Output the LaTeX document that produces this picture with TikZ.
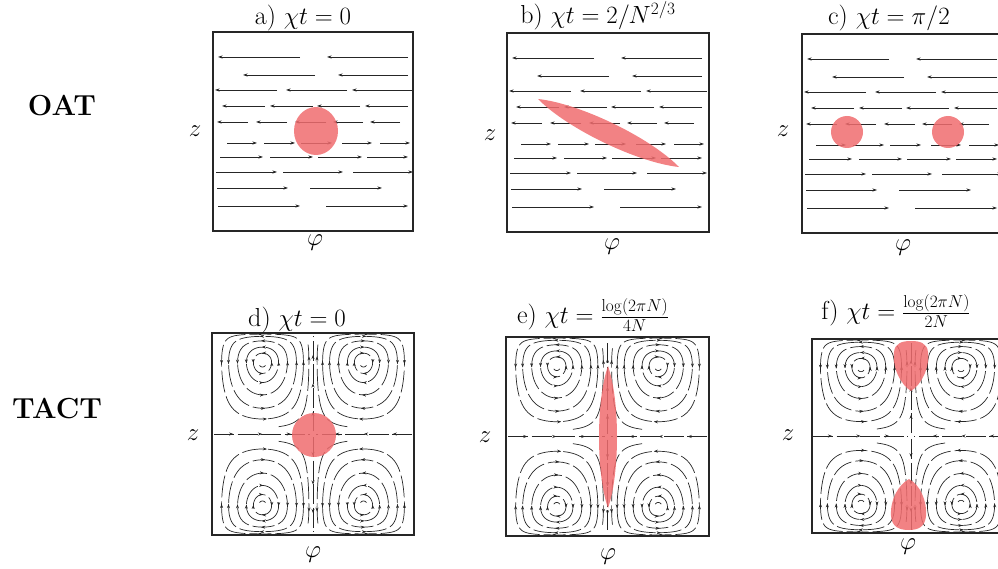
\documentclass[tikz,border=0pt]{standalone}
\usetikzlibrary{arrows.meta,decorations.markings}
\definecolor{blob}{RGB}{240,108,110}
\tikzset{
 panelbox/.style={line width=1.1pt, draw=black!85},
 flowarrow/.style={line width=0.65pt, draw=black!85, -{Stealth[length=4.5pt,width=3pt]}},
 stream/.style={line width=0.7pt, draw=black!85, dash pattern=on 22pt off 4pt},
 streamtip/.style={line width=0.7pt, draw=black!85, -{Stealth[length=4pt,width=3pt]}},
 midstream/.style={line width=0.7pt, draw=black!85, dash pattern=on 20pt off 3.5pt,
   postaction={decorate}, decoration={markings, mark=between positions 0.2 and 1 step 0.3 with {\arrow{Stealth[length=4pt,width=3pt]}}}},
 plainstream/.style={line width=0.7pt, draw=black!85},
 blobfill/.style={fill=blob, fill opacity=0.85, draw=none},
 ttl/.style={font=\fontsize{26}{30}\selectfont, anchor=base},
 axl/.style={font=\fontsize{27}{31}\selectfont},
 rowl/.style={font=\fontsize{29}{33}\selectfont\bfseries},
}
% OAT horizontal flow rows; #1 box left, #2 box top
\newcommand\oatrows[2]{%
 \begin{scope}[shift={(#1,#2)}]
  \foreach \yy/\aa/\bb in {25/5/87, 25/114/195, 43/30/102, 43/125/195, 58/2/64, 58/73/134, 58/139/200,
     74/9/52, 74/57/100, 74/104/147, 74/152/195, 90/4/35, 90/43/74, 90/82/113, 90/120/150, 90/157/187}
   {\draw[flowarrow] (\bb,\yy) -- (\aa,\yy);}
  \foreach \yy/\aa/\bb in {111/14/44, 111/51/82, 111/88/119, 111/129/159, 111/167/197,
     125/7/50, 125/57/100, 125/105/149, 125/154/195, 140/3/64, 140/70/130, 140/140/200,
     156/4/75, 156/97/169, 174/5/87, 174/113/195}
   {\draw[flowarrow] (\aa,\yy) -- (\bb,\yy);}
 \end{scope}}
% TACT stream lines; #1 X0, #2 Y0, #3 W, #4 H
\newcommand\tactflow[4]{%
 \pgfmathsetmacro\wsc{(#3)/180}%
 \foreach \sx in {1,-1}{\foreach \sz in {1,-1}{%
  \foreach \rr in {0.28,0.48,0.70,0.87,0.956}{%
   \draw[stream] plot[domain=0:360,samples=91,smooth,variable=\t]
    ({#1+(\sx)*\wsc*(-90+asin(\rr*cos(\t)/sqrt(1-\rr*\rr*sin(\t)*sin(\t))))},
     {#2-(\sz)*#4*sqrt((1+\rr*sin(\t))/2)});
   \foreach \aa in {2,92,182,272}{%
    \pgfmathsetmacro\bbb{\aa+0.4}%
    \draw[streamtip] plot[domain=\aa:\bbb,samples=2,variable=\t]
    ({#1+(\sx)*\wsc*(-90+asin(\rr*cos(\t)/sqrt(1-\rr*\rr*sin(\t)*sin(\t))))},
     {#2-(\sz)*#4*sqrt((1+\rr*sin(\t))/2)});
   }
  }
  % near-separatrix fan beside the central axis
  \draw[stream] plot[domain=-86:35,samples=61,smooth,variable=\t]
    ({#1+(\sx)*\wsc*(-90+asin(0.992*cos(\t)/sqrt(1-0.984*sin(\t)*sin(\t))))},
     {#2-(\sz)*#4*sqrt((1+0.992*sin(\t))/2)});
  \draw[streamtip] plot[domain=10:10.4,samples=2,variable=\t]
    ({#1+(\sx)*\wsc*(-90+asin(0.992*cos(\t)/sqrt(1-0.984*sin(\t)*sin(\t))))},
     {#2-(\sz)*#4*sqrt((1+0.992*sin(\t))/2)});
  \draw[plainstream] plot[domain=220:320,samples=15,smooth,variable=\t]
    ({#1+(\sx)*\wsc*(-90+asin(0.12*cos(\t)/sqrt(1-0.0144*sin(\t)*sin(\t))))},
     {#2-(\sz)*#4*sqrt((1+0.12*sin(\t))/2)});
 }}
 \draw[midstream] (#1-#3+2,#2) -- (#1-3,#2);
 \draw[midstream] (#1+#3-2,#2) -- (#1+3,#2);
 \draw[midstream] (#1,#2-3) -- (#1,#2-#4+3);
 \draw[midstream] (#1,#2+3) -- (#1,#2+#4-3);
}
\begin{document}
\begin{tikzpicture}[x=1pt,y=-1pt]
\useasboundingbox (0,0) rectangle (998,569);
% row labels
\node[rowl] (oat) at (62,106) {OAT};
\node[rowl] (tact) at (57,409) {TACT};
% ---------- panel a
\oatrows{213}{32}
\fill[blobfill] (316,131) ellipse [x radius=22, y radius=24];
\draw[panelbox] (213,32) rectangle (413,231);
\node[ttl] (ta) at (303,25) {a) $\chi t=0$};
\node[axl] (za) at (195,131) {$z$};
\node[axl] (pa) at (315,243) {$\varphi$};
% ---------- panel b
\oatrows{507}{33}
\fill[blobfill] (538,99) .. controls (579.4,103.3) and (649.9,137.3) .. (679,167)
   .. controls (637.6,162.7) and (567.1,128.7) .. (538,99) -- cycle;
\draw[panelbox] (507,33) rectangle (709,232);
\node[ttl] (tb) at (598,24) {b) $\chi t=2/N^{2/3}$};
\node[axl] (zb) at (490,135) {$z$};
\node[axl] (pb) at (612,247) {$\varphi$};
% ---------- panel c
\oatrows{802}{34}
\fill[blobfill] (847,132) circle [radius=16];
\fill[blobfill] (948,132) circle [radius=16];
\draw[panelbox] (802,34) rectangle (1003,233);
\node[ttl] (tc) at (889,25) {c) $\chi t=\pi/2$};
\node[axl] (zc) at (783,131) {$z$};
\node[axl] (pc) at (903,248) {$\varphi$};
% ---------- panel d
\tactflow{313}{434}{101}{101}
\fill[blobfill] (314,435) circle [radius=22];
\draw[panelbox] (212,333) rectangle (414,535);
\node[ttl] (td) at (297,326) {d) $\chi t=0$};
\node[axl] (zd) at (193,435) {$z$};
\node[axl] (pd) at (313,555) {$\varphi$};
% ---------- panel e
\tactflow{607.5}{436.5}{101.5}{99.5}
\fill[blobfill] (608,366) .. controls (620,400) and (620,474) .. (608,508)
   .. controls (596,474) and (596,400) .. (608,366) -- cycle;
\draw[panelbox] (506,337) rectangle (709,536);
\node[ttl] (te) at (593,323) {e) $\chi t=\frac{\log(2\pi N)}{4N}$};
\node[axl] (ze) at (485,437) {$z$};
\node[axl] (pe) at (608,557) {$\varphi$};
% ---------- panel f
\tactflow{911}{436}{100}{97}
\fill[blobfill] (911,391) .. controls (921,385) and (930,368) .. (928,352)
   .. controls (927,343) and (920,341) .. (911,341) .. controls (902,341) and (895,343) .. (894,352)
   .. controls (892,368) and (901,385) .. (911,391) -- cycle;
\fill[blobfill] (909,479) .. controls (920,485) and (927,500) .. (926,516)
   .. controls (925,527) and (918,530) .. (909,530) .. controls (899,530) and (892,527) .. (891,516)
   .. controls (890,500) and (898,485) .. (909,479) -- cycle;
\draw[panelbox] (812,339) rectangle (1011,533);
\node[ttl] (tf) at (896,319) {f) $\chi t=\frac{\log(2\pi N)}{2N}$};
\node[axl] (zf) at (788,435) {$z$};
\node[axl] (pf) at (908,547) {$\varphi$};
\end{tikzpicture}
\end{document}
